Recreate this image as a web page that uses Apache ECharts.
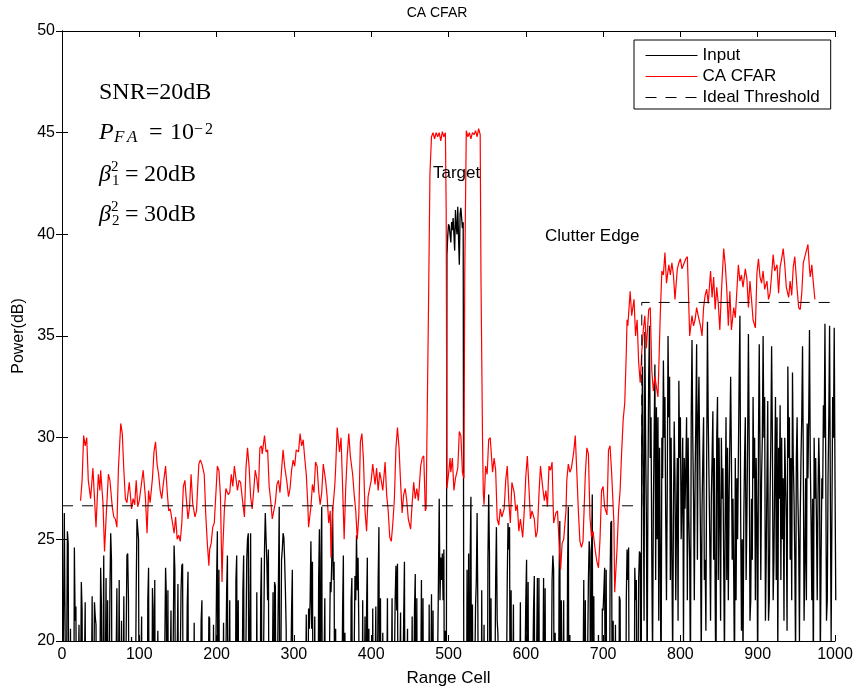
<!DOCTYPE html>
<html><head><meta charset="utf-8">
<script src="https://cdn.jsdelivr.net/npm/echarts@6/dist/echarts.min.js"></script>
<style>html,body{margin:0;padding:0;background:#fff}#c{width:856px;height:688px}</style>
</head><body><div id="c"></div><script>
// ---------------- data ----------------
const xTicks = [0,100,200,300,400,500,600,700,800,900,1000];
const yTicks = [20,25,30,35,40,45,50];
const belowAxisDb = 12; // input samples under 20 dB are off-scale in the reference

// Input: visible samples in the 20 dB clutter region (cells 0..749), [cell, dB]
const inputLowSpikes = [
[3,26.3],[4,20.5],[7,25.4],[8,24.8],[11,20.6],[16,24.6],[17,21.0],[18,21.7],[22,20.8],[25,22.9],[26,21.5],[30,21.9],
[39,22.2],[42,21.9],[43,21.2],[44,20.8],[50,23.6],[51,21.8],[54,24.2],[57,23.1],[59,22.0],[62,22.5],[63,25.3],[64,24.0],
[71,22.6],[74,23.0],[77,21.0],[80,22.2],[84,24.2],[85,24.3],[86,22.0],[90,20.2],[96,22.5],[97,26.0],[98,25.5],[99,25.0],
[103,21.2],[111,22.0],[112,23.6],[117,22.6],[118,21.5],[120,23.0],[124,20.5],[134,23.6],[135,22.2],[137,22.5],
[141,21.5],[145,24.7],[146,23.5],[150,22.8],[154,22.5],[155,23.7],[156,23.8],[162,21.8],[163,23.4],[171,20.9],
[180,21.0],[181,22.0],[190,21.2],[191,21.1],[196,20.8],[200,23.0],[201,25.4],[203,23.5],[209,20.9],[213,22.5],
[214,24.2],[217,22.0],[225,23.0],[226,24.2],[228,22.0],[234,22.5],[235,24.2],[239,24.0],[240,25.0],[241,25.3],
[243,21.0],[244,25.3],[252,22.4],[257,22.0],[258,24.1],[262,24.5],[263,26.3],[264,25.0],[265,23.9],[266,22.0],
[267,24.5],[273,22.4],[275,22.9],[276,22.7],[280,23.0],[281,26.6],[284,24.0],[285,24.5],[286,25.3],[287,25.1],
[288,24.0],[289,22.5],[290,20.6],[297,21.5],[298,23.5],[316,21.3],[319,21.6],[320,20.6],[321,22.0],[322,24.9],
[323,20.6],[324,23.9],[327,21.2],[332,23.0],[333,25.5],[335,24.0],[336,26.6],[340,22.1],[347,22.9],[348,22.4],
[349,24.0],[350,26.6],[351,23.0],[352,23.9],[354,20.6],[363,21.5],[364,24.2],[366,20.4],[374,22.0],[375,23.1],
[379,23.2],[380,22.0],[381,25.2],[382,22.5],[383,24.1],[384,20.6],[389,22.0],[392,21.2],[394,21.5],[395,24.1],
[397,20.6],[402,21.6],[406,21.7],[409,23.0],[410,25.6],[412,22.1],[415,20.4],[421,22.1],[427,22.1],[431,22.0],
[432,23.7],[433,21.5],[434,23.8],[438,21.4],[442,21.0],[443,23.9],[447,20.6],[453,21.2],[456,21.5],[457,23.3],
[459,22.1],[465,23.0],[467,22.1],[475,21.8],[478,22.3],[480,21.5],[487,23.0],[488,27.0],[489,22.0],[490,24.1],
[491,23.0],[492,24.3],[493,22.0],[494,24.5],[496,20.5],
[498,39.0],[499,39.9],[500,40.5],[501,40.4],[502,40.0],[503,39.6],[504,40.6],[505,40.2],[506,40.8],[507,40.0],
[508,39.2],[509,41.2],[510,40.4],[511,40.0],[512,41.35],[513,39.8],[514,38.5],[515,41.0],[516,41.3],[517,40.8],
[518,40.3],[519,40.6],
[524,23.5],[526,24.3],[528,24.0],[529,27.1],[531,21.8],[535,21.7],[536,23.0],[537,26.3],[538,21.4],[543,22.5],
[546,20.8],[551,24.0],[552,27.2],[553,24.3],[555,22.1],[561,23.0],[562,25.6],[563,21.0],[564,20.3],[576,23.0],
[577,25.8],[578,24.5],[579,25.6],[581,22.5],[584,21.8],[593,21.9],[600,22.0],[601,24.0],[603,22.9],[610,21.5],
[611,23.2],[615,23.1],[617,23.1],[623,23.1],[625,22.6],[634,23.0],[635,24.2],[636,23.5],[638,20.4],[643,23.0],
[644,25.9],[646,22.0],[649,22.0],[654,23.5],[655,26.6],[657,20.3],[675,23.0],[677,22.0],[681,23.0],[682,24.9],
[683,24.4],[685,24.0],[686,27.2],[688,22.2],[694,20.3],[699,21.6],[700,21.5],[701,22.5],[702,23.6],[704,23.5],
[709,23.0],[710,25.8],[711,25.9],[713,21.0],[716,20.8],[721,22.2],[722,22.0],[730,22.0],[731,24.5],[732,23.0],
[733,24.6],[741,23.6],[742,22.0],[743,23.0],[746,23.0],[747,24.4],[748,24.3]
];
// Input: 30 dB clutter region, one value per cell from 750 to 1000
const inputHighStart = 750;
const inputHighDb = [
30.0,33.5,27.9,21,35.2,30,26,18,27.5,33,35.5,29,31,24,19,26.5,30,33.6,23,31.5,
25,31,21,29.5,24,17,30,28,33.8,30,32,26,22,27.5,35.0,31,33,23,30,24,
19,26,30.8,28,22,26,29,21,32.8,29,31,25,27,30,20,29,26.5,28.5,31,22,
30,26,24,18,31,34.8,30,27,22,28,31,34.6,24,31,33,29,25,19,26.5,29,
31,23,24,20.5,29,35.7,31,28,25,21,27,29,31.3,24,29,22,17,30,32,23,
30,26,21,30,27,28.5,24,19,26.5,31,23,29.5,22,27,30,33,29,24,27,23,
18,29,22,28,25,29,33,36.0,26,20.5,25,19,26,29,31,23,26,30,35.1,30,
21,22,27,24,32,28,30,22,29,26,18,30,34.6,29,23,28,30,35,30,32,
21,24,28,31.8,21,22,27,30,34.5,30,22,24,28,32,23,31,19,29.5,27,31.6,
23,30,25,28,21,30,28,26,20.5,33.5,29,31,24,29,22,33.2,29,27,24,19,
29,31,27,25,20,26,29,31,34.5,29,21,24,28,22,30.7,28,31,35.3,29,26,
22,27,18,30,27,29,26,22,27,30,28,19,24,28,27,31.6,30,35.6,29,21,
22,28,31,35.5,27,20,26,32,30,35.4,28,22
];

// CA CFAR threshold estimate, [cell, dB]
const cfarPoints = [
[24,26.9],[26,27.9],[28,30.1],[30,29.6],[32,30.0],[34,27.9],[37,27.0],[40,28.5],[42,28.5],[44,25.6],[47,28.2],
[49,27.4],[50,28.4],[53,26.8],[55,24.4],[57,26.0],[60,28.2],[62,27.9],[65,26.6],[67,26.1],[69,26.0],[71,25.6],
[73,28.5],[76,30.7],[78,30.2],[80,28.4],[82,27.0],[84,26.8],[87,27.8],[90,26.5],[92,27.0],[94,26.7],[96,27.9],
[98,26.6],[100,26.9],[102,27.5],[105,28.4],[108,27.0],[110,25.3],[112,27.4],[114,26.8],[117,28.0],[119,29.3],
[121,29.8],[123,28.7],[125,28.2],[127,27.4],[129,27.0],[131,27.7],[134,28.6],[136,27.4],[138,26.4],[140,26.5],
[143,25.8],[145,25.3],[147,26.1],[149,25.0],[151,25.2],[153,24.9],[155,25.8],[157,27.6],[159,27.9],[161,26.9],
[163,26.0],[165,26.6],[167,28.2],[169,26.8],[172,26.1],[174,26.4],[177,28.7],[179,28.9],[181,28.7],[184,28.2],
[186,26.2],[188,24.8],[190,23.7],[191,24.5],[193,24.8],[195,25.6],[197,25.8],[199,27.2],[201,28.6],[203,28.4],
[205,27.1],[207,22.9],[208,24.5],[210,26.4],[212,27.5],[215,27.2],[217,27.3],[219,28.2],[221,27.6],[223,28.6],
[225,28.0],[227,27.4],[229,27.9],[231,27.8],[233,27.1],[236,26.1],[238,28.5],[240,29.5],[242,28.6],[244,27.1],
[246,26.5],[248,27.4],[250,28.4],[252,28.0],[254,27.3],[256,29.5],[258,29.6],[259,29.2],[262,30.1],[264,29.3],
[266,29.4],[268,27.6],[270,26.9],[272,26.0],[274,26.4],[276,26.8],[278,27.7],[280,27.9],[282,27.3],[284,28.4],
[286,29.4],[288,28.6],[291,27.8],[293,27.1],[295,27.5],[297,28.4],[299,28.9],[301,28.6],[303,29.4],[306,29.3],
[308,30.2],[310,29.6],[312,29.9],[314,29.0],[316,28.2],[318,26.7],[319,25.6],[322,26.6],[324,27.7],[326,27.3],
[328,28.8],[330,28.6],[332,27.4],[334,26.7],[336,27.3],[338,28.7],[341,27.9],[343,27.1],[345,25.8],[347,26.4],
[348,24.1],[350,26.3],[353,27.7],[354,28.5],[356,30.5],[359,29.3],[361,30.0],[363,27.6],[365,25.0],[367,27.5],
[369,29.1],[371,30.2],[373,29.1],[376,28.2],[378,27.2],[380,26.4],[382,25.0],[384,26.2],[386,29.8],[388,30.2],
[390,28.9],[392,26.4],[394,25.4],[396,27.1],[398,27.5],[400,27.9],[402,28.7],[405,27.7],[407,28.5],[409,27.4],
[411,28.3],[413,27.9],[415,27.4],[418,28.8],[420,27.2],[422,26.4],[424,25.1],[426,24.9],[428,25.8],[430,27.0],
[432,29.5],[434,30.5],[436,29.5],[438,27.8],[440,26.3],[442,27.2],[444,27.5],[446,26.9],[448,26.0],[451,25.5],
[453,26.8],[455,27.8],[457,27.0],[459,27.5],[461,26.9],[464,28.6],[466,29.0],[468,29.1],[470,26.4],[471,26.5],
[474,36.0],[476,43.0],[478,44.8],[480,45.0],[482,44.7],[484,45.0],[486,44.8],[488,45.0],[490,44.6],[492,45.05],
[494,44.8],[496,45.0],[497,41.2],[498,27.5],[500,28.2],[502,29.0],[503,28.3],[505,29.0],[507,27.4],[509,28.0],
[512,28.5],[514,30.3],[516,30.1],[518,28.3],[520,28.0],[521,38.0],[523,45.1],[525,44.8],[527,45.0],[529,44.7],
[531,45.0],[533,44.9],[535,45.1],[537,44.8],[539,45.2],[541,44.9],[542,37.9],[544,30.0],[545,27.3],[546,26.7],
[548,28.6],[550,28.2],[552,29.9],[554,30.0],[557,28.3],[559,29.0],[561,28.4],[563,26.0],[565,25.7],[567,26.5],
[569,26.1],[572,26.5],[574,27.9],[576,28.6],[578,26.9],[580,25.8],[582,27.8],[585,27.3],[587,26.4],[589,26.7],
[591,25.4],[593,26.0],[596,25.1],[598,26.4],[600,28.1],[602,29.1],[604,27.6],[606,26.0],[608,26.4],[611,26.0],
[613,25.1],[615,25.4],[617,27.2],[619,28.6],[622,27.5],[624,26.9],[626,27.4],[628,26.6],[630,28.6],[632,28.4],
[634,28.8],[636,25.8],[639,26.3],[641,26.4],[643,24.9],[645,23.5],[647,24.8],[649,25.0],[652,26.4],[653,27.9],
[655,28.7],[657,28.3],[659,28.5],[662,29.3],[664,30.1],[666,28.3],[668,26.4],[670,24.9],[672,24.6],[674,24.9],
[677,28.2],[679,29.5],[681,29.2],[683,26.1],[685,25.1],[687,25.4],[690,24.4],[692,23.9],[694,23.6],[696,25.0],
[698,27.4],[700,27.6],[702,26.6],[705,26.2],[707,29.4],[709,29.6],[711,28.3],[714,25.8],[715,22.4],[718,24.5],
[720,26.4],[722,27.4],[724,29.3],[726,30.9],[728,31.7],[730,34.2],[731,35.8],[732,35.5],[735,37.2],[737,36.0],
[740,36.8],[742,35.0],[744,35.8],[746,33.7],[748,32.7],[750,34.2],[752,35.3],[754,36.0],[756,34.4],[759,36.3],
[761,36.4],[763,33.3],[765,32.3],[767,33.0],[769,32.5],[771,32.0],[774,36.1],[776,38.2],[778,38.0],[780,39.1],
[782,37.6],[785,38.5],[787,38.0],[789,38.6],[791,38.0],[793,36.8],[796,38.3],[798,38.6],[800,38.8],[802,38.3],
[804,38.5],[807,38.8],[809,38.9],[811,36.3],[812,35.0],[815,36.0],[817,35.5],[819,35.8],[821,36.4],[823,36.0],
[826,35.5],[828,35.0],[830,36.4],[832,37.0],[834,37.3],[836,36.6],[839,38.2],[841,36.9],[843,37.9],[845,36.3],
[847,37.4],[849,36.6],[851,35.3],[853,37.1],[856,39.3],[858,38.5],[860,37.3],[862,35.5],[864,37.2],[866,35.3],
[869,36.4],[871,35.9],[873,37.2],[875,38.5],[877,37.7],[879,38.0],[881,37.4],[884,38.3],[886,37.8],[888,36.4],
[890,37.7],[892,36.8],[894,35.8],[897,35.4],[899,38.1],[901,38.8],[903,37.9],[905,37.6],[907,38.2],[909,37.3],
[912,37.7],[914,36.8],[916,37.1],[918,38.0],[920,39.0],[922,38.2],[925,38.5],[927,37.1],[929,38.4],[931,38.8],
[933,39.3],[935,38.5],[937,37.4],[940,36.9],[942,37.7],[944,37.0],[946,38.4],[948,38.9],[951,37.3],[953,36.4],
[955,36.3],[957,37.1],[959,38.6],[961,38.9],[963,39.2],[965,39.5],[967,38.3],[968,37.9],[970,38.5],[972,37.6],
[974,36.8]
];

// Ideal threshold, [cell, dB]
const thresholdPoints = [[0,26.65],[750,26.65],[750,36.65],[1000,36.65]];

// ---------------- build series data ----------------
const lowDb = new Array(inputHighStart).fill(belowAxisDb);
inputLowSpikes.forEach(([c, v]) => { lowDb[c] = v; });
const inputData = lowDb.map((v, i) => [i, v])
  .concat(inputHighDb.map((v, i) => [inputHighStart + i, v]));

const SANS = '"Liberation Sans", Arial, sans-serif';
const SERIF = '"Liberation Serif", "Times New Roman", serif';

function txt(x, y, s, size, opts) {
  return {
    type: 'text', x: x, y: y, z: 100,
    style: { text: s, fill: '#000',
             font: (opts && opts.italic ? 'italic ' : '') + size + 'px ' + ((opts && opts.sans) ? SANS : SERIF),
             align: 'left', verticalAlign: 'middle' }
  };
}

const frameAxis = {
  axisLine: { show: true, lineStyle: { color: '#000', width: 1 } },
  axisTick: { show: true, inside: true, length: 6, lineStyle: { color: '#000' } },
  splitLine: { show: false }
};

const chart = echarts.init(document.getElementById('c'), null, { renderer: 'canvas' });
chart.setOption({
  animation: false,
  backgroundColor: '#fff',
  title: { text: 'CA CFAR', left: 432, textAlign: 'center', top: 1,
           textStyle: { fontFamily: SANS, fontSize: 14, fontWeight: 'normal', color: '#000' } },
  grid: { left: 62, right: 21, top: 31, bottom: 47, containLabel: false, outerBoundsMode: 'none' },
  legend: {
    orient: 'vertical', left: 634, top: 40,
    data: ['Input', 'CA CFAR', 'Ideal Threshold'],
    itemWidth: 52, itemHeight: 14, itemGap: 4,
    padding: [7, 11, 3, 11],
    itemStyle: { opacity: 0 },
    lineStyle: { width: 1 },
    backgroundColor: '#fff', borderColor: '#000', borderWidth: 1, borderRadius: 0,
    textStyle: { fontFamily: SANS, fontSize: 17, color: '#000' }
  },
  xAxis: [Object.assign({
    type: 'value', min: 0, max: 1000, interval: 100, position: 'bottom',
    name: 'Range Cell', nameLocation: 'middle', nameGap: 29,
    nameTextStyle: { fontFamily: SANS, fontSize: 17, color: '#000' },
    axisLabel: { fontFamily: SANS, fontSize: 16, color: '#000', margin: 6, formatter: v => String(v) }
  }, frameAxis), Object.assign({
    type: 'value', min: 0, max: 1000, interval: 100, position: 'top',
    axisLabel: { show: false }
  }, frameAxis)],
  yAxis: [Object.assign({
    type: 'value', min: 20, max: 50, interval: 5, position: 'left',
    name: 'Power(dB)', nameLocation: 'middle', nameGap: 31,
    nameTextStyle: { fontFamily: SANS, fontSize: 16, color: '#000' },
    axisLabel: { fontFamily: SANS, fontSize: 16, color: '#000', margin: 7 }
  }, frameAxis), Object.assign({
    type: 'value', min: 20, max: 50, interval: 5, position: 'right',
    axisLabel: { show: false }
  }, frameAxis)],
  series: [
    { name: 'Input', type: 'line', data: inputData, symbol: 'none', clip: true,
      lineStyle: { color: '#000', width: 1.3 }, itemStyle: { color: '#000' }, z: 2 },
    { name: 'CA CFAR', type: 'line', data: cfarPoints, symbol: 'none', clip: true,
      lineStyle: { color: '#ff0000', width: 1.2 }, itemStyle: { color: '#ff0000' }, z: 3 },
    { name: 'Ideal Threshold', type: 'line', data: thresholdPoints, symbol: 'none', clip: true,
      lineStyle: { color: '#000', width: 1, type: [11, 9] }, itemStyle: { color: '#000' }, z: 4 }
  ],
  graphic: [
    txt(99, 92.7, 'SNR=20dB', 24),
    txt(99, 132.7, 'P', 24, { italic: true }),
    txt(114, 138, 'F', 17, { italic: true }),
    txt(127, 138, 'A', 17, { italic: true }),
    txt(149, 132.7, '=', 24),
    txt(170, 132.7, '10', 24),
    txt(194, 130, '\u2212', 16),
    txt(205, 130, '2', 16),
    txt(99, 174.7, '\u03B2', 24, { italic: true }),
    txt(111, 167.4, '2', 15),
    txt(112, 181.4, '1', 15),
    txt(125, 174.7, '=', 24), txt(144, 174.7, '20dB', 24),
    txt(99, 214.7, '\u03B2', 24, { italic: true }),
    txt(111, 207.4, '2', 15),
    txt(112, 221.4, '2', 15),
    txt(125, 214.7, '=', 24), txt(144, 214.7, '30dB', 24),
    txt(433, 173, 'Target', 17, { sans: true }),
    txt(545, 236, 'Clutter Edge', 17, { sans: true })
  ]
});
</script></body></html>
